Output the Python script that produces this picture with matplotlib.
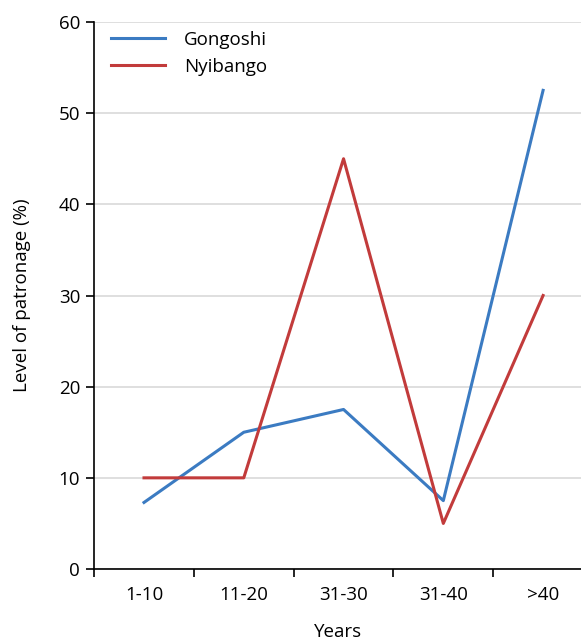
import matplotlib.pyplot as plt
from matplotlib.ticker import FixedLocator

categories = ["1-10", "11-20", "31-30", "31-40", ">40"]
gongoshi = [7.3, 15.0, 17.5, 7.5, 52.5]
nyibango = [10.0, 10.0, 45.0, 5.0, 30.0]

plt.rcParams['font.family'] = ['Open Sans', 'DejaVu Sans']

fig = plt.figure(figsize=(5.81, 6.41), dpi=100)
ax = fig.add_axes([0.162, 0.1123, 0.838, 0.8534])

x = list(range(len(categories)))
ax.plot(x, gongoshi, color='#3b7bc2', linewidth=2.2, label='Gongoshi')
ax.plot(x, nyibango, color='#c23b3b', linewidth=2.2, label='Nyibango')

ax.set_ylim(0, 60)
ax.set_yticks([0, 10, 20, 30, 40, 50, 60])
ax.set_xlim(-0.5, 4.38)
ax.set_xticks(x)
ax.set_xticklabels(categories)
ax.tick_params(axis='x', which='major', length=0, pad=12, labelsize=13.5)
ax.xaxis.set_minor_locator(FixedLocator([-0.5, 0.5, 1.5, 2.5, 3.5]))
ax.tick_params(axis='x', which='minor', length=6, width=1.2, direction='out')
ax.tick_params(axis='y', length=6, width=1.2, direction='out', labelsize=13.5, pad=4)

ax.grid(axis='y', color='#d9d9d9', linewidth=1.2)
ax.set_axisbelow(True)
for s in ['top', 'right']:
    ax.spines[s].set_visible(False)
for s in ['left', 'bottom']:
    ax.spines[s].set_linewidth(1.2)

ax.set_ylabel('Level of patronage (%)', fontsize=13.5, labelpad=20)
ax.set_xlabel('Years', fontsize=13.5, labelpad=14)

ax.legend(loc='upper left', frameon=False, fontsize=13.5, handlelength=2.9,
          handletextpad=1.0, labelspacing=0.5, bbox_to_anchor=(0.0, 1.015))

fig.savefig('out.png', dpi=100)
